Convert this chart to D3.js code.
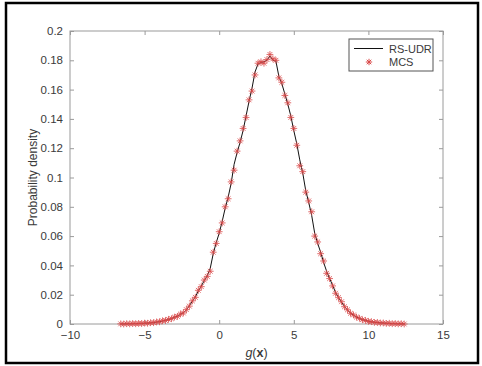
<!DOCTYPE html>
<html><head><meta charset="utf-8">
<script src="https://cdn.jsdelivr.net/npm/d3@7"></script>
<style>
html,body{margin:0;padding:0;background:#fff;}
svg{display:block;font-family:"Liberation Sans",Arial,sans-serif;}
</style></head>
<body>
<script>
const xValues = [-6.6,-6.4,-6.2,-6.0,-5.8,-5.6,-5.4,-5.2,-5.0,-4.8,-4.6,-4.4,-4.2,-4.0,-3.8,-3.6,-3.4,-3.2,-3.0,-2.8,-2.6,-2.4,-2.2,-2.0,-1.8,-1.6,-1.4,-1.2,-1.0,-0.8,-0.6,-0.4,-0.2,0.0,0.2,0.4,0.6,0.8,1.0,1.2,1.4,1.6,1.8,2.0,2.2,2.4,2.6,2.8,3.0,3.2,3.4,3.6,3.8,4.0,4.2,4.4,4.6,4.8,5.0,5.2,5.4,5.6,5.8,6.0,6.2,6.4,6.6,6.8,7.0,7.2,7.4,7.6,7.8,8.0,8.2,8.4,8.6,8.8,9.0,9.2,9.4,9.6,9.8,10.0,10.2,10.4,10.6,10.8,11.0,11.2,11.4,11.6,11.8,12.0,12.2,12.4];
const rsudr = [0.0000,0.0001,0.0001,0.0002,0.0002,0.0003,0.0003,0.0004,0.0005,0.0006,0.0008,0.0010,0.0013,0.0016,0.0020,0.0025,0.0030,0.0037,0.0045,0.0054,0.0065,0.0078,0.0095,0.0125,0.0155,0.0185,0.0225,0.0260,0.0295,0.0330,0.0380,0.0480,0.0555,0.0620,0.0700,0.0790,0.0865,0.0960,0.1090,0.1170,0.1240,0.1320,0.1420,0.1520,0.1610,0.1720,0.1775,0.1785,0.1790,0.1800,0.1830,0.1800,0.1795,0.1690,0.1640,0.1570,0.1500,0.1420,0.1320,0.1230,0.1120,0.1030,0.0910,0.0830,0.0740,0.0620,0.0550,0.0490,0.0420,0.0360,0.0310,0.0265,0.0215,0.0180,0.0148,0.0120,0.0095,0.0075,0.0060,0.0048,0.0038,0.0030,0.0024,0.0019,0.0015,0.0012,0.0010,0.0008,0.0006,0.0005,0.0004,0.0003,0.0002,0.0002,0.0001,0.0001];
const mcs = [0.0001,0.0000,0.0002,0.0001,0.0003,0.0002,0.0004,0.0003,0.0006,0.0005,0.0009,0.0009,0.0014,0.0015,0.0022,0.0024,0.0032,0.0036,0.0047,0.0052,0.0068,0.0075,0.0098,0.0122,0.0158,0.0182,0.0230,0.0255,0.0300,0.0325,0.0360,0.0490,0.0550,0.0630,0.0690,0.0800,0.0855,0.0970,0.1050,0.1180,0.1250,0.1335,0.1410,0.1530,0.1590,0.1700,0.1780,0.1790,0.1780,0.1805,0.1840,0.1810,0.1800,0.1680,0.1650,0.1560,0.1510,0.1410,0.1335,0.1220,0.1080,0.1040,0.0900,0.0840,0.0766,0.0600,0.0560,0.0480,0.0430,0.0346,0.0310,0.0260,0.0210,0.0180,0.0152,0.0118,0.0097,0.0073,0.0062,0.0047,0.0039,0.0029,0.0025,0.0018,0.0016,0.0011,0.0011,0.0007,0.0007,0.0004,0.0005,0.0002,0.0003,0.0001,0.0002,0.0000];
const xTicks = [-10,-5,0,5,10,15];
const yTicks = [0,0.02,0.04,0.06,0.08,0.1,0.12,0.14,0.16,0.18,0.2];
const seriesNames = ["RS-UDR","MCS"];

const W = 482, H = 366;
const L = 70, R = 443, T = 31, B = 324;
const svg = d3.select("body").append("svg").attr("width", W).attr("height", H);

// outer frame
svg.append("rect").attr("x", 6).attr("y", 3).attr("width", 472).attr("height", 360)
  .attr("fill", "none").attr("stroke", "#000").attr("stroke-width", 2.5);

const x = d3.scaleLinear().domain([-10, 15]).range([L, R]);
const y = d3.scaleLinear().domain([0, 0.2]).range([B, T]);

const axisColor = "#9a9a9a", textColor = "#3a3a3a";

// box
svg.append("rect").attr("x", L).attr("y", T).attr("width", R - L).attr("height", B - T)
  .attr("fill", "none").attr("stroke", axisColor).attr("stroke-width", 1);

function styleAxis(g) {
  g.select(".domain").remove();
  g.selectAll(".tick line").attr("stroke", axisColor);
  g.selectAll(".tick text").attr("fill", textColor).attr("font-size", 11.5)
    .attr("font-family", "'Liberation Sans', Arial, sans-serif");
}
const fmtY = d => d === 0 ? "0" : String(+d.toFixed(2));
svg.append("g").attr("transform", `translate(0,${B})`)
  .call(d3.axisBottom(x).tickValues(xTicks).tickSize(-4).tickPadding(7)).call(styleAxis);
svg.append("g").attr("transform", `translate(0,${T})`)
  .call(d3.axisTop(x).tickValues(xTicks).tickSize(-4).tickFormat("")).call(styleAxis);
svg.append("g").attr("transform", `translate(${L},0)`)
  .call(d3.axisLeft(y).tickValues(yTicks).tickSize(-4).tickPadding(7).tickFormat(fmtY)).call(styleAxis);
svg.append("g").attr("transform", `translate(${R},0)`)
  .call(d3.axisRight(y).tickValues(yTicks).tickSize(-4).tickFormat("")).call(styleAxis);

// line
const pts = xValues.map((v, i) => [v, rsudr[i]]);
svg.append("path").datum(pts)
  .attr("d", d3.line().x(d => x(d[0])).y(d => y(d[1])))
  .attr("fill", "none").attr("stroke", "#111").attr("stroke-width", 1);

// MCS stars
function star(cx, cy, s) {
  const a = s * 0.7;
  return `M${cx - s},${cy}L${cx + s},${cy}M${cx},${cy - s}L${cx},${cy + s}` +
    `M${cx - a},${cy - a}L${cx + a},${cy + a}M${cx - a},${cy + a}L${cx + a},${cy - a}`;
}
const mpts = xValues.map((v, i) => [v, mcs[i]]);
svg.append("g").selectAll("path").data(mpts).join("path")
  .attr("d", d => star(x(d[0]), y(d[1]), 3.4))
  .attr("fill", "none").attr("stroke", "#d94848").attr("stroke-width", 1).attr("opacity", 0.8);

// legend
const lg = svg.append("g");
lg.append("rect").attr("x", 349).attr("y", 39).attr("width", 84).attr("height", 32)
  .attr("fill", "#fff").attr("stroke", "#555").attr("stroke-width", 1);
lg.append("line").attr("x1", 354).attr("x2", 383).attr("y1", 48.5).attr("y2", 48.5)
  .attr("stroke", "#111").attr("stroke-width", 1);
lg.append("path").attr("d", star(369, 62, 3.2)).attr("fill", "none")
  .attr("stroke", "#d94848").attr("stroke-width", 1);
lg.append("text").attr("x", 389).attr("y", 52.5).text(seriesNames[0])
  .attr("font-size", 11).attr("fill", textColor);
lg.append("text").attr("x", 389).attr("y", 66).text(seriesNames[1])
  .attr("font-size", 11).attr("fill", textColor);

// axis labels
const xl = svg.append("text").attr("x", (L + R) / 2).attr("y", 357).attr("text-anchor", "middle")
  .attr("font-size", 12.5).attr("fill", textColor);
xl.append("tspan").attr("font-style", "italic").text("g");
xl.append("tspan").text("(");
xl.append("tspan").attr("font-weight", "bold").text("x");
xl.append("tspan").text(")");

svg.append("text").attr("transform", `translate(37,${(T + B) / 2}) rotate(-90)`)
  .attr("text-anchor", "middle").attr("font-size", 12).attr("fill", textColor)
  .text("Probability density");
</script>
</body></html>
